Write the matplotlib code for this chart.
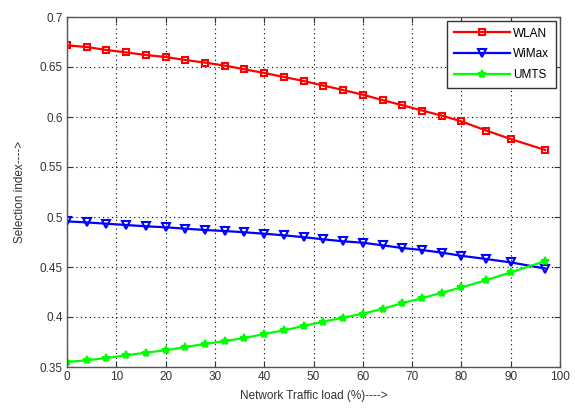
import matplotlib
matplotlib.use("Agg")
import matplotlib.pyplot as plt

plt.rcParams['font.family'] = ['Liberation Sans', 'DejaVu Sans']

load = [0, 4, 8, 12, 16, 20, 24, 28, 32, 36, 40, 44, 48, 52, 56, 60, 64, 68, 72, 76, 80, 85, 90, 97]
wlan = [0.6716, 0.6700, 0.6670, 0.6646, 0.6620, 0.6600, 0.6570, 0.6544, 0.6514, 0.6477, 0.6440,
        0.6400, 0.6360, 0.6314, 0.6270, 0.6223, 0.6169, 0.6118, 0.6065, 0.6014, 0.5956, 0.5865,
        0.5780, 0.5670]
wimax = [0.4956, 0.4946, 0.4933, 0.4920, 0.4907, 0.4897, 0.4883, 0.4870, 0.4860, 0.4847, 0.4833,
         0.4817, 0.4798, 0.4777, 0.4757, 0.4743, 0.4717, 0.4690, 0.4670, 0.4644, 0.4612, 0.4580,
         0.4546, 0.4485]
umts = [0.3550, 0.3567, 0.3590, 0.3617, 0.3644, 0.3667, 0.3700, 0.3730, 0.3760, 0.3790, 0.3830,
        0.3867, 0.3910, 0.3954, 0.3993, 0.4033, 0.4082, 0.4138, 0.4188, 0.4243, 0.4296, 0.4368,
        0.4447, 0.4559]

fig = plt.figure(figsize=(5.75, 4.08), dpi=100)
ax = fig.add_axes([67/575, 1 - 367/408, (560-67)/575, (367-17)/408])

ax.plot(load, wlan, color='#ff0000', lw=1.6, marker='s', ms=5, mfc='none', mec='#ff0000', mew=1.5, label='WLAN')
ax.plot(load, wimax, color='#0000ff', lw=1.6, marker='v', ms=5.5, mfc='none', mec='#0000ff', mew=1.5, label='WiMax')
ax.plot(load, umts, color='#00ff00', lw=1.6, marker='*', ms=6, mfc='#00ff00', mec='#00ff00', mew=1.5, label='UMTS')

ax.set_xlim(0, 100)
ax.set_ylim(0.35, 0.7)
ax.set_xticks(range(0, 101, 10))
ax.set_yticks([0.35, 0.4, 0.45, 0.5, 0.55, 0.6, 0.65, 0.7])
ax.set_yticklabels(['0.35', '0.4', '0.45', '0.5', '0.55', '0.6', '0.65', '0.7'])
ax.grid(True, color='k', linestyle=(0, (1, 3)), linewidth=0.8)
ax.tick_params(direction='in', length=4, labelsize=8.5, colors='#333333', top=True, right=True, pad=3)
for s in ax.spines.values():
    s.set_color('#555555')
    s.set_linewidth(1.0)

ax.set_xlabel('Network Traffic load (%)---->', fontsize=8.5, color='#333333', labelpad=5)
ax.set_ylabel('Selection index---->', fontsize=8.5, color='#333333', labelpad=10)

leg = ax.legend(loc='upper right', fontsize=8.5, fancybox=False, edgecolor='#333333',
                framealpha=1, borderaxespad=0.35, handlelength=4.8, labelspacing=0.75,
                borderpad=0.55, handletextpad=0.25)
leg.get_frame().set_linewidth(1.0)

fig.savefig('out.png', dpi=100)
